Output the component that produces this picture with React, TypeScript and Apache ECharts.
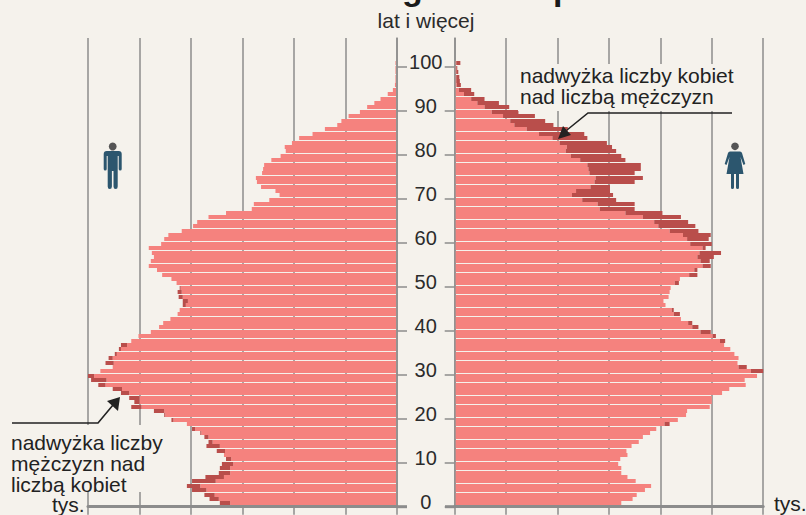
import React, { useEffect, useRef } from "react";
import * as echarts from "echarts";

// Population by single year of age, thousands, index = age (0..100)
const men = [
  172, 182, 187, 199, 204, 199, 186, 173, 172, 170,
  166, 168, 175, 185, 183, 187, 191, 199, 204, 219,
  226, 236, 258, 255, 260, 268, 276, 290, 297, 300,
  288, 276, 283, 280, 274, 270, 268, 258, 251, 239,
  231, 227, 220, 213, 211, 208, 208, 212, 213, 211,
  214, 219, 228, 233, 241, 239, 236, 238, 241, 229,
  226, 222, 209, 198, 194, 183, 166, 141, 139, 124,
  114, 118, 132, 136, 137, 131, 130, 129, 122, 113,
  108, 109, 102, 95, 82, 70, 58, 54, 47, 36,
  29, 22, 16, 9, 4, 2, 1.5, 1.5, 1.5, 1.5, 1.5,
];
const women = [
  162, 173, 177, 185, 191, 176, 168, 162, 162, 159,
  161, 168, 167, 172, 179, 183, 190, 196, 209, 217,
  225, 226, 248, 250, 250, 260, 267, 283, 282, 294,
  300, 284, 275, 276, 272, 268, 262, 263, 254, 249,
  237, 231, 220, 219, 213, 205, 203, 208, 209, 210,
  218, 219, 236, 236, 249, 248, 252, 259, 244, 250,
  247, 249, 237, 234, 227, 220, 202, 175, 175, 157,
  154, 151, 151, 175, 183, 175, 181, 181, 166, 162,
  157, 153, 148, 129, 126, 110, 96, 88, 78, 62,
  53, 43, 29, 19, 16, 6, 5, 4.5, 3.5, 2.5, 5.5,
];
const ageTicks = [0, 10, 20, 30, 40, 50, 60, 70, 80, 90, 100];
const topLabel = "lat i więcej";
const unitLabel = "tys.";
const noteWomen = ["nadwyżka liczby kobiet", "nad liczbą mężczyzn"];
const noteMen = ["nadwyżka liczby", "mężczyzn nad", "liczbą kobiet"];

const BG = "#f5f2ec";
const GRID = "#8c8c8c";
const LIGHT = "#f5827e";
const DARK = "#b94e4b";
const INK = "#222222";
const ICON = "#2c566e";
const FONT = "Liberation Sans";

echarts.graphic.registerShape(
  "manBody",
  echarts.graphic.extendPath(
    "M-9,3 Q-9,0 -6,0 L6,0 Q9,0 9,3 L9,18 Q9,19.5 7.5,19.5 Q6,19.5 6,18 L6,5 L5,5 L5,35.5 Q5,38 3,38 Q0.8,38 0.8,35.5 L0.8,20 L-0.8,20 L-0.8,35.5 Q-0.8,38 -3,38 Q-5,38 -5,35.5 L-5,5 L-6,5 L-6,18 Q-6,19.5 -7.5,19.5 Q-9,19.5 -9,18 Z",
    {}
  )
);
echarts.graphic.registerShape(
  "womanBody",
  echarts.graphic.extendPath(
    "M-5,0.5 L5,0.5 Q6.5,0.5 7,2 L10.3,13 L8.5,14 L5.5,6 L8.5,23 L4,23 L4,36.5 Q4,38 2.7,38 Q1,38 1,36.5 L1,23 L-1,23 L-1,36.5 Q-1,38 -2.7,38 Q-4,38 -4,36.5 L-4,23 L-8.5,23 L-5.5,6 L-8.5,14 L-10.3,13 L-7,2 Q-6.5,0.5 -5,0.5 Z",
    {}
  )
);

// Row = [from, to, age]
const rowsLight = men.map((m, age) => [0, Math.min(m, women[age]), age]);
const rowsMenExcess = men.map((m, age) => [Math.min(m, women[age]), m, age]);
const rowsWomenExcess = women.map((f, age) => [Math.min(men[age], f), f, age]);

const makeRender = (fill: string, inset: number) => (_: any, api: any) => {
  const age = api.value(2);
  const a = api.coord([api.value(0), age]);
  const b = api.coord([api.value(1), age]);
  if (Math.abs(a[0] - b[0]) < 0.01) return null;
  const top = Math.round(a[1] - 5.3);
  // the rows sit just off the central axis line
  const x0 = api.value(0) === 0 ? a[0] + inset : a[0];
  return {
    type: "rect",
    shape: { x: Math.min(x0, b[0]), y: top, width: Math.abs(b[0] - x0), height: 4 },
    style: { fill },
  };
};

const barSeries = (name: string, gridIndex: number, data: number[][], fill: string, inset: number) => ({
  type: "custom",
  name,
  xAxisIndex: gridIndex,
  yAxisIndex: gridIndex,
  data,
  encode: { x: [0, 1], y: 2 },
  renderItem: makeRender(fill, inset),
  silent: true,
});

const text = (s: string, x: number, y: number, extra: any = {}) => ({
  type: "text",
  z: 100,
  x,
  y,
  style: {
    text: s,
    fill: INK,
    font: `21px "${FONT}"`,
    verticalAlign: "middle",
    ...extra,
  },
});
const patch = (x: number, y: number, width: number, height: number) => ({
  type: "rect",
  z: 90,
  shape: { x, y, width, height },
  style: { fill: BG },
});
const stroke = (points: number[][], width = 1.6, color = INK) => ({
  type: "polyline",
  z: 100,
  shape: { points },
  style: { stroke: color, lineWidth: width, fill: "none" },
});
const arrow = (points: number[][]) => ({
  type: "polygon",
  z: 100,
  shape: { points },
  style: { fill: INK },
});

const xAxis = (gridIndex: number, inverse: boolean) => ({
  type: "value",
  gridIndex,
  inverse,
  min: 0,
  max: 300,
  interval: 50,
  axisLabel: { show: false },
  axisLine: { show: true, lineStyle: { color: GRID, width: 3 } },
  axisTick: { show: true, length: 8, lineStyle: { color: GRID, width: 1.5 } },
  splitLine: { show: true, lineStyle: { color: GRID, width: 1.5 } },
});
const yAxis = (gridIndex: number, position: string, labels: boolean) => ({
  type: "value",
  gridIndex,
  position,
  min: 0,
  max: 106.5,
  axisLine: { show: true, onZero: false, lineStyle: { color: GRID, width: 1.5 } },
  axisTick: {
    show: true,
    length: 10,
    customValues: ageTicks,
    lineStyle: { color: GRID, width: 1.5 },
  },
  splitLine: { show: false },
  axisLabel: {
    show: labels,
    customValues: ageTicks,
    margin: 29,
    align: "center",
    verticalAlign: "bottom",
    lineHeight: 10,
    fontSize: 20,
    fontFamily: FONT,
    color: "#2b2b2b",
  },
});

export default function App() {
  const ref = useRef<HTMLDivElement>(null);
  useEffect(() => {
    document.body.style.margin = "0";
    document.body.style.background = BG;
    const chart = echarts.init(ref.current!, null, { renderer: "svg" });
    chart.setOption({
      animation: false,
      backgroundColor: BG,
      textStyle: { fontFamily: FONT },
      grid: [
        { left: 88, top: 38, width: 309, height: 468.7 },
        { left: 454.7, top: 38, width: 308.5, height: 468.7 },
      ],
      xAxis: [xAxis(0, true), xAxis(1, false)],
      yAxis: [yAxis(0, "right", false), yAxis(1, "left", true)],
      series: [
        barSeries("mężczyźni", 0, rowsLight, LIGHT, -1),
        barSeries("nadwyżka mężczyzn", 0, rowsMenExcess, DARK, -1),
        barSeries("kobiety", 1, rowsLight, LIGHT, 1),
        barSeries("nadwyżka kobiet", 1, rowsWomenExcess, DARK, 1),
      ],
      graphic: {
        elements: [
          // clipped headline descenders
          { ...text("g", 402, -12, { font: `bold 34px "${FONT}"`, fill: "#1a1a1a" }) },
          { ...text("p", 553, -12, { font: `bold 34px "${FONT}"`, fill: "#1a1a1a" }) },
          text(topLabel, 426, 20, { align: "center", fill: "#2b2b2b" }),
          // zero ticks as heavy as the baseline
          stroke([[397, 506.7], [407, 506.7]], 3, GRID),
          stroke([[445, 506.7], [455, 506.7]], 3, GRID),
          // note: women
          patch(518, 64, 220, 47),
          text(noteWomen.join("\n"), 520, 85.5, { lineHeight: 21 }),
          stroke([[732, 113], [588, 113], [567, 130]]),
          arrow([[558, 139], [563, 126], [571, 135]]),
          // note: men
          patch(0, 425, 166, 67),
          patch(50, 492, 36, 12),
          text(noteMen.join("\n"), 11, 463.5, { lineHeight: 21 }),
          text(unitLabel, 52, 504.5),
          stroke([[12, 423], [98, 423], [113, 405]]),
          arrow([[120, 397], [107, 401], [118, 411]]),
          text(unitLabel, 774, 503),
          // figures
          { type: "circle", z: 100, shape: { cx: 112.7, cy: 146.5, r: 3.9 }, style: { fill: "#555555" } },
          { type: "manBody", z: 100, x: 112.7, y: 151, style: { fill: ICON } },
          { type: "circle", z: 100, shape: { cx: 735, cy: 146.3, r: 3.8 }, style: { fill: "#555555" } },
          { type: "womanBody", z: 100, x: 735, y: 151, style: { fill: ICON } },
        ],
      },
    });
    return () => chart.dispose();
  }, []);
  return <div ref={ref} style={{ width: 806, height: 515 }} />;
}
